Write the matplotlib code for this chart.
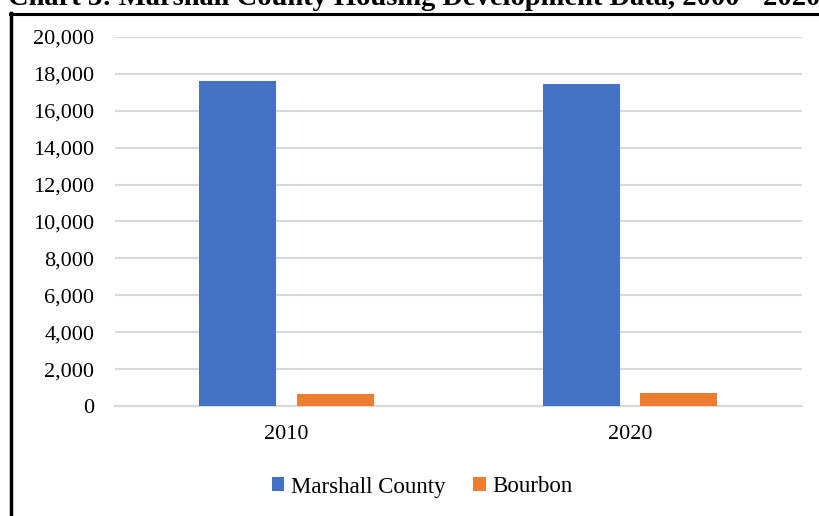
import numpy as np
import matplotlib
matplotlib.use("Agg")
import matplotlib.pyplot as plt
from matplotlib.lines import Line2D
from matplotlib.ticker import FuncFormatter

years = ["2010", "2020"]
marshall = [17630, 17440]
bourbon = [670, 690]

plt.rcParams['font.family'] = ['Liberation Serif', 'DejaVu Serif']

fig = plt.figure(figsize=(8.2, 5.16), dpi=100)
ax = fig.add_axes([0.1402, 0.2132, 0.8378, 0.7151])

x = np.arange(len(years))
w = 0.224
ax.bar(x - 0.1425, marshall, w, color='#4472C4', label='Marshall County', zorder=3)
ax.bar(x + 0.1415, bourbon, w, color='#ED7D31', label='Bourbon', zorder=3)

ax.set_xlim(-0.5, 1.5)
ax.set_ylim(0, 20000)
ax.set_yticks(np.arange(0, 20001, 2000))
ax.yaxis.set_major_formatter(FuncFormatter(lambda v, p: f"{int(v):,}"))
ax.set_xticks(x)
ax.set_xticklabels(years)
ax.grid(axis='y', color='#d9d9d9', linewidth=1.5, zorder=0)
for s in ['top', 'right', 'left']:
    ax.spines[s].set_visible(False)
ax.spines['bottom'].set_color('#d9d9d9')
ax.spines['bottom'].set_linewidth(1.5)
ax.tick_params(axis='both', length=0, labelsize=16)
ax.tick_params(axis='y', pad=15)
ax.tick_params(axis='x', pad=14)

fig.legend(loc='center', bbox_to_anchor=(0.515, 1 - 487 / 516), ncol=2,
           frameon=False, fontsize=16.5, handlelength=0.55, handleheight=0.55,
           handletextpad=0.3, columnspacing=1.2)

# page frame and clipped heading
fig.add_artist(Line2D([11.5 / 820, 11.5 / 820], [0, 1 - 13 / 516],
                      transform=fig.transFigure, color='black', linewidth=2.5))
fig.add_artist(Line2D([10 / 820, 1], [1 - 14 / 516, 1 - 14 / 516],
                      transform=fig.transFigure, color='black', linewidth=2.2))
fig.text(8 / 820, 1 - 5 / 516, "Chart 3: Marshall County Housing Development Data, 2000 - 2020",
         fontsize=20.5, fontweight='bold', va='baseline', ha='left')

fig.savefig("out.png", dpi=100)
